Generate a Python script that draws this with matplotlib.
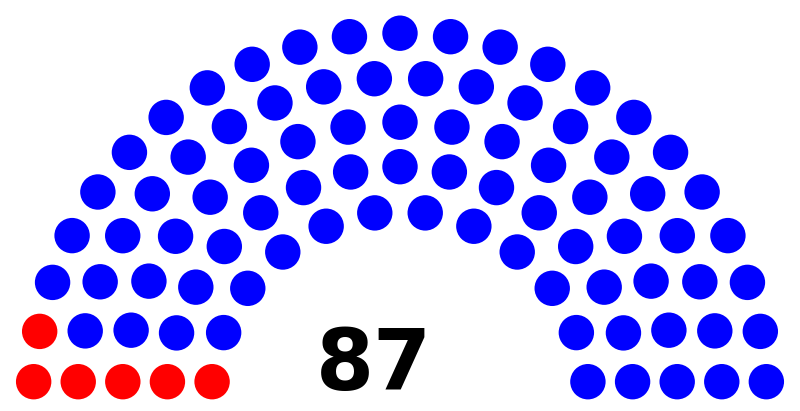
import numpy as np
import matplotlib
matplotlib.use('Agg')
import matplotlib.pyplot as plt
from matplotlib.patches import Circle

# seat data
parties = ['Red party', 'Blue party']
seats = [6, 81]
colors = ['#FF0000', '#0000FF']
total = sum(seats)  # 87

n_rows = 5
cx, cy = 400.0, 400.0      # centre of the arc, pixel units
outer_r = 366.8
row_gap = 44.5
dot_r = 17.7

radii = np.array([outer_r - row_gap * k for k in range(n_rows)])

# seats per row proportional to row radius
per_row = np.round(total * radii / radii.sum()).astype(int)
per_row[0] += total - per_row.sum()

# angle of each seat (bottom dots lifted so they sit above the base line)
spots = []
for r, n in zip(radii, per_row):
    a0 = np.arcsin(18.3 / r)
    angs = np.linspace(a0, np.pi - a0, n)
    for a in angs:
        spots.append((a, r))
spots.sort(key=lambda s: s[0])

# give seats to parties in angle order
seat_cols = []
for p, s in enumerate(seats):
    seat_cols += [colors[p]] * s

fig = plt.figure(figsize=(8, 4.11), dpi=100)
ax = fig.add_axes([0, 0, 1, 1])
ax.set_xlim(0, 800)
ax.set_ylim(411, 0)
ax.set_aspect('equal')
ax.axis('off')

for (a, r), c in zip(spots, seat_cols):
    x = cx - r * np.cos(a)
    y = cy - r * np.sin(a)
    ax.add_patch(Circle((x, y), dot_r, color=c, lw=0))

ax.text(374, 390, str(total), ha='center', va='baseline',
        fontsize=60, fontweight='bold', family='DejaVu Sans', color='black')

fig.savefig('out.png', dpi=100)
